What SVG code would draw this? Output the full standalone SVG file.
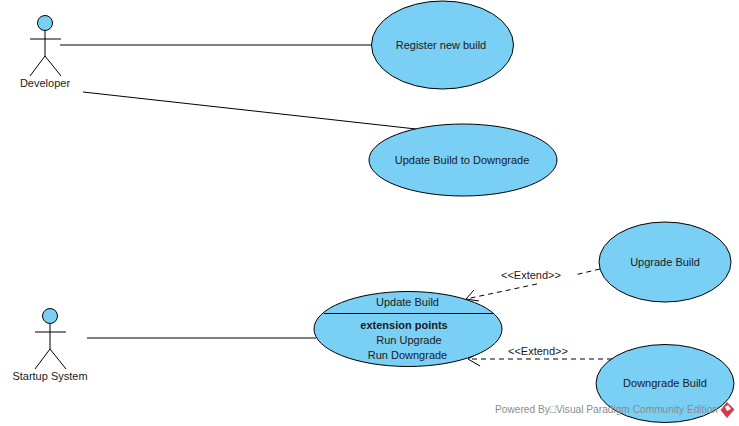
<svg xmlns="http://www.w3.org/2000/svg" width="739" height="426" viewBox="0 0 739 426">
<style>
text{font-family:"Liberation Sans",Arial,sans-serif;font-size:11px;fill:#1a1a1a;text-anchor:middle}
.uc{fill:#7acff5;stroke:#000;stroke-width:1}
.ln{fill:none;stroke:#000;stroke-width:1}
.d{fill:none;stroke:#000;stroke-width:1;stroke-dasharray:5 4}
</style>
<rect width="739" height="426" fill="#fff"/>
<g id="connectors">
<path class="ln" d="M60 45H372"/>
<path class="ln" d="M83 92L416 129"/>
<path class="ln" d="M87 338H316"/>
<path class="d" d="M600 269L574.500 275M537 284L466 299"/>
<path class="ln" d="M474 290L466 299L479 301"/>
<path class="d" d="M612 359H468"/>
<path class="ln" d="M480 352L468 359L480 366"/>
</g>
<g id="developer">
<circle class="uc" cx="45" cy="23" r="7.500"/>
<path class="ln" d="M45 31V56M30 39H61M30 76L45 56L61 76"/>
<text x="45" y="87">Developer</text>
</g>
<g id="startup-system">
<circle class="uc" cx="50" cy="316" r="7.500"/>
<path class="ln" d="M50 324V349M35 332H66M35 369L50 349L66 369"/>
<text x="50" y="380">Startup System</text>
</g>
<g id="register-new-build">
<ellipse class="uc" cx="442.500" cy="45" rx="71" ry="44"/>
<text x="441" y="49">Register new build</text>
</g>
<g id="update-build-to-downgrade">
<ellipse class="uc" cx="463" cy="160" rx="94" ry="36"/>
<text x="462" y="164">Update Build to Downgrade</text>
</g>
<g id="update-build">
<ellipse class="uc" cx="408" cy="329" rx="94" ry="37.500"/>
<path class="ln" d="M324 313.500H493"/>
<text x="407.500" y="306">Update Build</text>
<text x="404" y="329" font-weight="bold">extension points</text>
<text x="409" y="344">Run Upgrade</text>
<text x="407.500" y="359">Run Downgrade</text>
</g>
<g id="upgrade-build">
<ellipse class="uc" cx="665" cy="262" rx="66" ry="40"/>
<text x="665" y="266">Upgrade Build</text>
</g>
<g id="downgrade-build">
<ellipse class="uc" cx="665" cy="383.500" rx="69" ry="39"/>
<text x="665" y="387">Downgrade Build</text>
</g>
<text x="531" y="279">&lt;&lt;Extend&gt;&gt;</text>
<text x="538" y="355">&lt;&lt;Extend&gt;&gt;</text>
<text x="606.500" y="413" textLength="223" lengthAdjust="spacingAndGlyphs" style="fill:#8c8c8c">Powered By□Visual Paradigm Community Edition</text>
<path d="M727 402L734.500 409.500L727 418L720.500 410Z" fill="#d63a48"/>
<path d="M725 407L728 405L731 409L727 411Z" fill="#fff"/>
</svg>
